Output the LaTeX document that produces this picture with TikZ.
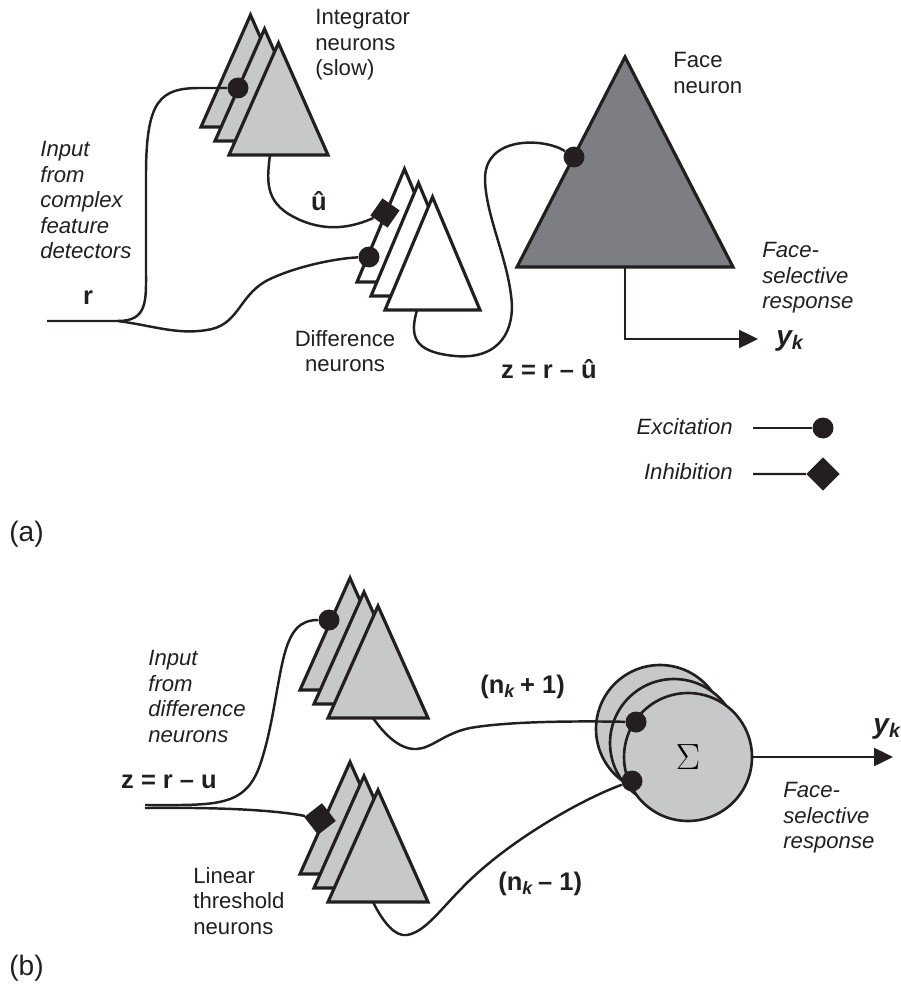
\documentclass[tikz,border=0pt]{standalone}
\usepackage{fontspec}
\setmainfont{Liberation Sans}
\usepackage{tikz}
\usetikzlibrary{arrows.meta, positioning, calc}
\definecolor{mydark}{RGB}{35,31,32}
\definecolor{mylight}{RGB}{199,200,202}
\definecolor{mymid}{RGB}{125,126,130}
\tikzset{
  neuron/.style={draw=mydark, fill=mylight, line width=1.8pt, line join=miter},
  diffneuron/.style={neuron, fill=white},
  faceneuron/.style={neuron, fill=mymid},
  sumnode/.style={circle, draw=mydark, fill=mylight, line width=1.5pt,
    minimum size=2.56cm, inner sep=0pt},
  excite/.style={circle, fill=mydark, inner sep=0pt, minimum size=0.42cm},
  inhibit/.style={rectangle, fill=mydark, inner sep=0pt, minimum size=0.42cm},
  wire/.style={draw=mydark, line width=1.4pt},
  arrow/.style={-{Triangle[length=0.38cm, width=0.36cm]}, line width=1.4pt, color=mydark},
  lbl/.style={inner sep=0pt, text=mydark, font=\fontsize{12.6}{14.5}\selectfont},
  ilbl/.style={lbl, font=\fontsize{12.6}{14.5}\selectfont\itshape},
  blbl/.style={lbl, font=\fontsize{14.5}{16}\selectfont\bfseries},
  bilbl/.style={lbl, font=\fontsize{16}{16}\selectfont\bfseries\itshape},
  plbl/.style={lbl, font=\fontsize{16}{18}\selectfont}
}

\begin{document}
\begin{tikzpicture}[x=0.02cm, y=-0.02cm]
  \useasboundingbox (0,0) rectangle (900,993);

  % ── (a) integrator, difference and face neurons ──
  \foreach \d in {28,14,0} {
    \draw[neuron] (229-\d,155-\d) -- ++(99,0) -- ++(-49.5,-112) -- cycle;
  }
  \foreach \d in {28,14,0} {
    \draw[diffneuron] (385-\d,310-\d) -- ++(95,0) -- ++(-47.5,-113) -- cycle;
  }
  \draw[faceneuron] (517,267) -- (733,267) -- (625,57) -- cycle;
  \coordinate (intout) at (270,155);
  \coordinate (diffout) at (417,310);
  \coordinate (faceout) at (625,267);
  \coordinate (rin) at (47,321);
  \coordinate (rsplit) at (118,321);
  \coordinate (yka) at (758,339);

  % synapses
  \node[excite] (intdot) at (238,88) {};
  \node[inhibit, rotate=55] (diffinh) at (385,213) {};
  \node[excite] (diffdot) at (369,257) {};
  \node[excite] (facedot) at (574,157) {};

  % wires
  \draw[wire] (rin) -- (rsplit) .. controls (148,321) and (146,300) .. (146,270)
    -- (146,175) .. controls (146,100) and (160,88) .. (200,88) -- (intdot);
  \draw[wire] (rsplit) .. controls (155,326) and (180,336) .. (212,329)
    .. controls (240,322) and (240,293) .. (270,279)
    .. controls (300,265) and (340,258) .. (diffdot);
  \draw[wire] (intout) .. controls (266,185) and (266,205) .. (300,220)
    .. controls (330,233) and (355,226) .. (diffinh);
  \draw[wire] (diffout) .. controls (410,335) and (412,352) .. (455,356)
    .. controls (500,360) and (516,330) .. (511,295)
    .. controls (506,255) and (486,215) .. (485,180)
    .. controls (484,135) and (545,138) .. (facedot);
  \draw[arrow] (faceout) |- (yka);

  % labels
  \node[lbl, anchor=north west, align=left] (intlbl) at (315,9) {Integrator\\neurons\\(slow)};
  \node[ilbl, anchor=north west, align=left] (inalbl) at (40,141) {Input\\from\\complex\\feature\\detectors};
  \node[blbl, anchor=base] (rlbl) at (88,304) {r};
  \node[blbl, anchor=base] (uhatlbl) at (319,211) {û};
  \node[lbl, anchor=north, align=center] (difflbl) at (345,330) {Difference\\neurons};
  \node[lbl, anchor=north west, align=left] (facelbl) at (673,52) {Face\\neuron};
  \node[ilbl, anchor=north west, align=left] (respalbl) at (762,242) {Face-\\selective\\response};
  \node[blbl, anchor=base] (zalbl) at (549,378) {z = r – û};
  \node[bilbl, anchor=base west] (ykalbl) at (776,345) {y\textsubscript{k}};

  % ── legend ──
  \coordinate (exstart) at (753,428);
  \coordinate (inhstart) at (753,474);
  \node[excite] (exdot) at (823,428) {};
  \node[inhibit, rotate=45, minimum size=0.47cm] (inhdia) at (823,474) {};
  \draw[wire] (exstart) -- (exdot);
  \draw[wire] (inhstart) -- (inhdia);
  \node[ilbl, anchor=base east] (exlbl) at (733,434) {Excitation};
  \node[ilbl, anchor=base east] (inhlbl) at (733,479) {Inhibition};
  \node[plbl, anchor=base west] (alabel) at (9,541) {(a)};

  % ── (b) linear threshold neurons and sum ──
  \foreach \d in {28,14,0} {
    \draw[neuron] (328-\d,718-\d) -- ++(100,0) -- ++(-50,-112) -- cycle;
  }
  \foreach \d in {28,14,0} {
    \draw[neuron] (328-\d,902-\d) -- ++(100,0) -- ++(-50,-112) -- cycle;
  }
  \node[sumnode] (sumback) at (660,729) {};
  \node[sumnode] (summid) at (674,743) {};
  \node[sumnode] (sumfront) at (688,757) {\fontsize{22}{22}\selectfont$\Sigma$};
  \coordinate (topout) at (373,718);
  \coordinate (botout) at (373,902);
  \coordinate (zin) at (145,805);
  \coordinate (zin2) at (145,808);
  \coordinate (ykb) at (893,757);

  % synapses
  \node[excite] (topdot) at (329,620) {};
  \node[inhibit, rotate=38, minimum size=0.45cm] (botinh) at (320,819) {};
  \node[excite] (topsyn) at (636,722) {};
  \node[excite] (botsyn) at (632,781) {};

  % wires
  \draw[wire] (zin) .. controls (215,805) and (245,808) .. (260,765)
    .. controls (272,730) and (276,690) .. (283,660)
    .. controls (290,630) and (300,620) .. (topdot);
  \draw[wire] (zin2) .. controls (230,807) and (280,811) .. (botinh);
  \draw[wire] (topout) .. controls (385,735) and (400,750) .. (417,749)
    .. controls (432,748) and (445,733) .. (470,728)
    .. controls (510,721) and (580,721) .. (topsyn);
  \draw[wire] (botout) .. controls (383,922) and (395,937) .. (407,935)
    .. controls (425,932) and (440,910) .. (462,888)
    .. controls (505,843) and (580,800) .. (botsyn);
  \draw[arrow] (sumfront.east) -- (ykb);

  % labels
  \node[ilbl, anchor=north west, align=left] (inblbl) at (148,650) {Input\\from\\difference\\neurons};
  \node[blbl, anchor=base] (zblbl) at (169,788) {z = r – u};
  \node[lbl, anchor=north west, align=left] (ltlbl) at (193,867) {Linear\\threshold\\neurons};
  \node[blbl, anchor=base west] (nplbl) at (480,693) {(n\textsubscript{\textit{k}}\,+ 1)};
  \node[blbl, anchor=base west] (nmlbl) at (498,890) {(n\textsubscript{\textit{k}}\,– 1)};
  \node[bilbl, anchor=base west] (ykblbl) at (873,733) {y\textsubscript{k}};
  \node[ilbl, anchor=north west, align=left] (respblbl) at (783,782) {Face-\\selective\\response};
  \node[plbl, anchor=base west] (blabel) at (9,975) {(b)};
\end{tikzpicture}
\end{document}
